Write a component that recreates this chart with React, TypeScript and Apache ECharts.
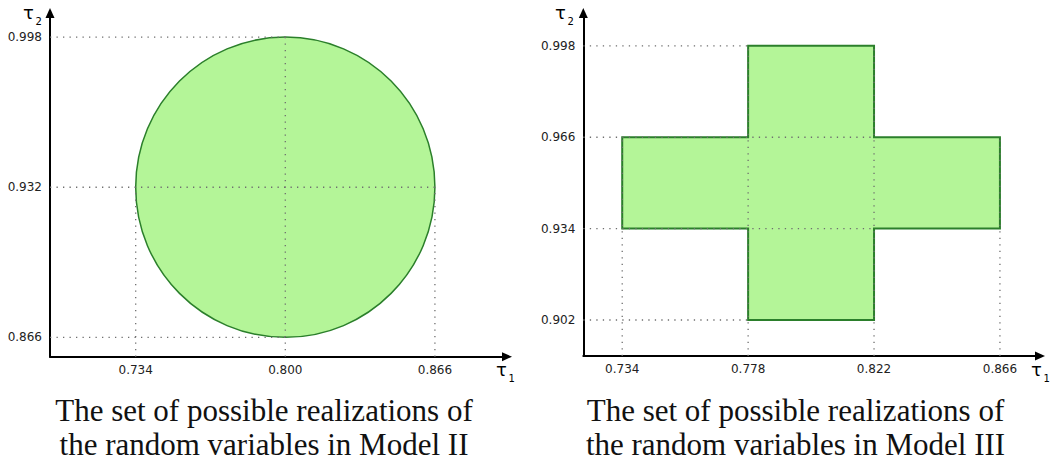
import React, { useEffect, useRef } from 'react';
import * as echarts from 'echarts';

// ---- data ----
const leftXTicks = [0.734, 0.8, 0.866];
const leftYTicks = [0.866, 0.932, 0.998];
const rightXTicks = [0.734, 0.778, 0.822, 0.866];
const rightYTicks = [0.902, 0.934, 0.966, 0.998];

const circleCenter = [0.8, 0.932];
const circleRadius = 0.066;

const crossVertices = [
  [0.778, 0.998], [0.822, 0.998], [0.822, 0.966], [0.866, 0.966],
  [0.866, 0.934], [0.822, 0.934], [0.822, 0.902], [0.778, 0.902],
  [0.778, 0.934], [0.734, 0.934], [0.734, 0.966], [0.778, 0.966],
];

const leftRange = { xMin: 0.6962, xMax: 0.8978, yMin: 0.8575, yMax: 1.0086 };
const rightRange = { xMin: 0.7204, xMax: 0.88, yMin: 0.8894, yMax: 1.0095 };

// guide segments [x1, y1, x2, y2]
const leftGuides = [
  [leftRange.xMin, 0.998, 0.8, 0.998],
  [leftRange.xMin, 0.932, 0.866, 0.932],
  [leftRange.xMin, 0.866, 0.8, 0.866],
  [0.734, leftRange.yMin, 0.734, 0.932],
  [0.8, leftRange.yMin, 0.8, 0.998],
  [0.866, leftRange.yMin, 0.866, 0.932],
];
const rightGuides = [
  [rightRange.xMin, 0.998, 0.778, 0.998],
  [rightRange.xMin, 0.966, 0.822, 0.966],
  [rightRange.xMin, 0.934, 0.822, 0.934],
  [rightRange.xMin, 0.902, 0.778, 0.902],
  [0.734, rightRange.yMin, 0.734, 0.966],
  [0.778, rightRange.yMin, 0.778, 0.998],
  [0.822, rightRange.yMin, 0.822, 0.998],
  [0.866, rightRange.yMin, 0.866, 0.966],
];

const captionLeft = ['The set of possible realizations of', 'the random variables in Model II'];
const captionRight = ['The set of possible realizations of', 'the random variables in Model III'];

const FILL = '#b4f598';
const STROKE = '#2b7f2b';
const GUIDE = '#6e6e6e';

function axisCommon(ticks: number[], isY: boolean) {
  return {
    type: 'value' as const,
    axisLine: {
      show: true,
      onZero: false,
      symbol: ['none', 'triangle'],
      symbolSize: [9, 10],
      lineStyle: { color: '#000', width: 2 },
    },
    axisTick: { show: false },
    splitLine: { show: false },
    axisLabel: {
      customValues: ticks,
      formatter: (v: number) => v.toFixed(3),
      margin: isY ? 8 : 7,
      color: '#222',
      fontSize: 12,
      fontFamily: 'DejaVu Sans',
    },
  };
}

function guideSeries(data: number[][], idx: number) {
  return {
    type: 'custom' as const,
    xAxisIndex: idx,
    yAxisIndex: idx,
    clip: false,
    z: 5,
    data,
    encode: { x: [0, 2], y: [1, 3] },
    renderItem: (_p: any, api: any) => {
      const a = api.coord([api.value(0), api.value(1)]);
      const b = api.coord([api.value(2), api.value(3)]);
      return {
        type: 'line',
        shape: { x1: a[0], y1: a[1], x2: b[0], y2: b[1] },
        style: { stroke: GUIDE, lineWidth: 1.3, lineDash: [1.3, 5.2] },
      };
    },
  };
}

function tau(x: number, y: number, sub: string) {
  return [
    {
      type: 'text',
      x,
      y,
      style: { text: 'τ', fontSize: 18, fontFamily: 'DejaVu Sans', fill: '#000', textAlign: 'left', textVerticalAlign: 'bottom' },
    },
    {
      type: 'text',
      x: x + 12.5,
      y: y + 5,
      style: { text: sub, fontSize: 10, fontFamily: 'DejaVu Sans', fill: '#000', textAlign: 'left', textVerticalAlign: 'bottom' },
    },
  ];
}

function caption(cx: number, lines: string[]) {
  return lines.map((t, i) => ({
    type: 'text',
    x: cx,
    y: 410 + i * 34,
    style: {
      text: t,
      fontSize: 31,
      fontFamily: 'Liberation Serif',
      fill: '#111',
      textAlign: 'center',
      textVerticalAlign: 'middle',
    },
  }));
}

export default function App() {
  const ref = useRef<HTMLDivElement>(null);
  useEffect(() => {
    if (!ref.current) return;
    const chart = echarts.init(ref.current, undefined, { renderer: 'svg' });
    chart.setOption({
      animation: false,
      backgroundColor: '#fff',
      grid: [
        { left: 50, top: 13, width: 457, height: 343.7, containLabel: false, outerBoundsMode: 'none' },
        { left: 583.3, top: 13, width: 456.7, height: 343, containLabel: false, outerBoundsMode: 'none' },
      ],
      xAxis: [
        { ...axisCommon(leftXTicks, false), gridIndex: 0, min: leftRange.xMin, max: leftRange.xMax },
        { ...axisCommon(rightXTicks, false), gridIndex: 1, min: rightRange.xMin, max: rightRange.xMax },
      ],
      yAxis: [
        { ...axisCommon(leftYTicks, true), gridIndex: 0, min: leftRange.yMin, max: leftRange.yMax },
        { ...axisCommon(rightYTicks, true), gridIndex: 1, min: rightRange.yMin, max: rightRange.yMax },
      ],
      series: [
        {
          type: 'custom',
          xAxisIndex: 0,
          yAxisIndex: 0,
          clip: false,
          z: 2,
          data: [[circleCenter[0], circleCenter[1], circleRadius]],
          encode: { x: 0, y: 1 },
          renderItem: (_p: any, api: any) => {
            const c = api.coord([api.value(0), api.value(1)]);
            const s = api.size([api.value(2), api.value(2)]);
            return {
              type: 'ellipse',
              shape: { cx: c[0], cy: c[1], rx: s[0], ry: s[1] },
              style: { fill: FILL, stroke: STROKE, lineWidth: 1.5 },
            };
          },
        },
        {
          type: 'custom',
          xAxisIndex: 1,
          yAxisIndex: 1,
          clip: false,
          z: 2,
          data: crossVertices,
          encode: { x: 0, y: 1 },
          renderItem: (p: any, api: any) => {
            if (p.dataIndex !== 0) return null;
            const pts = crossVertices.map((v) => api.coord(v));
            return {
              type: 'polygon',
              shape: { points: pts },
              style: { fill: FILL, stroke: STROKE, lineWidth: 2 },
            };
          },
        },
        guideSeries(leftGuides, 0),
        guideSeries(rightGuides, 1),
      ],
      graphic: [
        ...tau(23, 21, '2'),
        ...tau(555, 21, '2'),
        ...tau(496, 378, '1'),
        ...tau(1031, 378, '1'),
        ...caption(264, captionLeft),
        ...caption(795.5, captionRight),
      ],
    });
    return () => chart.dispose();
  }, []);
  return <div ref={ref} style={{ position: 'absolute', left: 0, top: 0, width: 1051, height: 468 }} />;
}
